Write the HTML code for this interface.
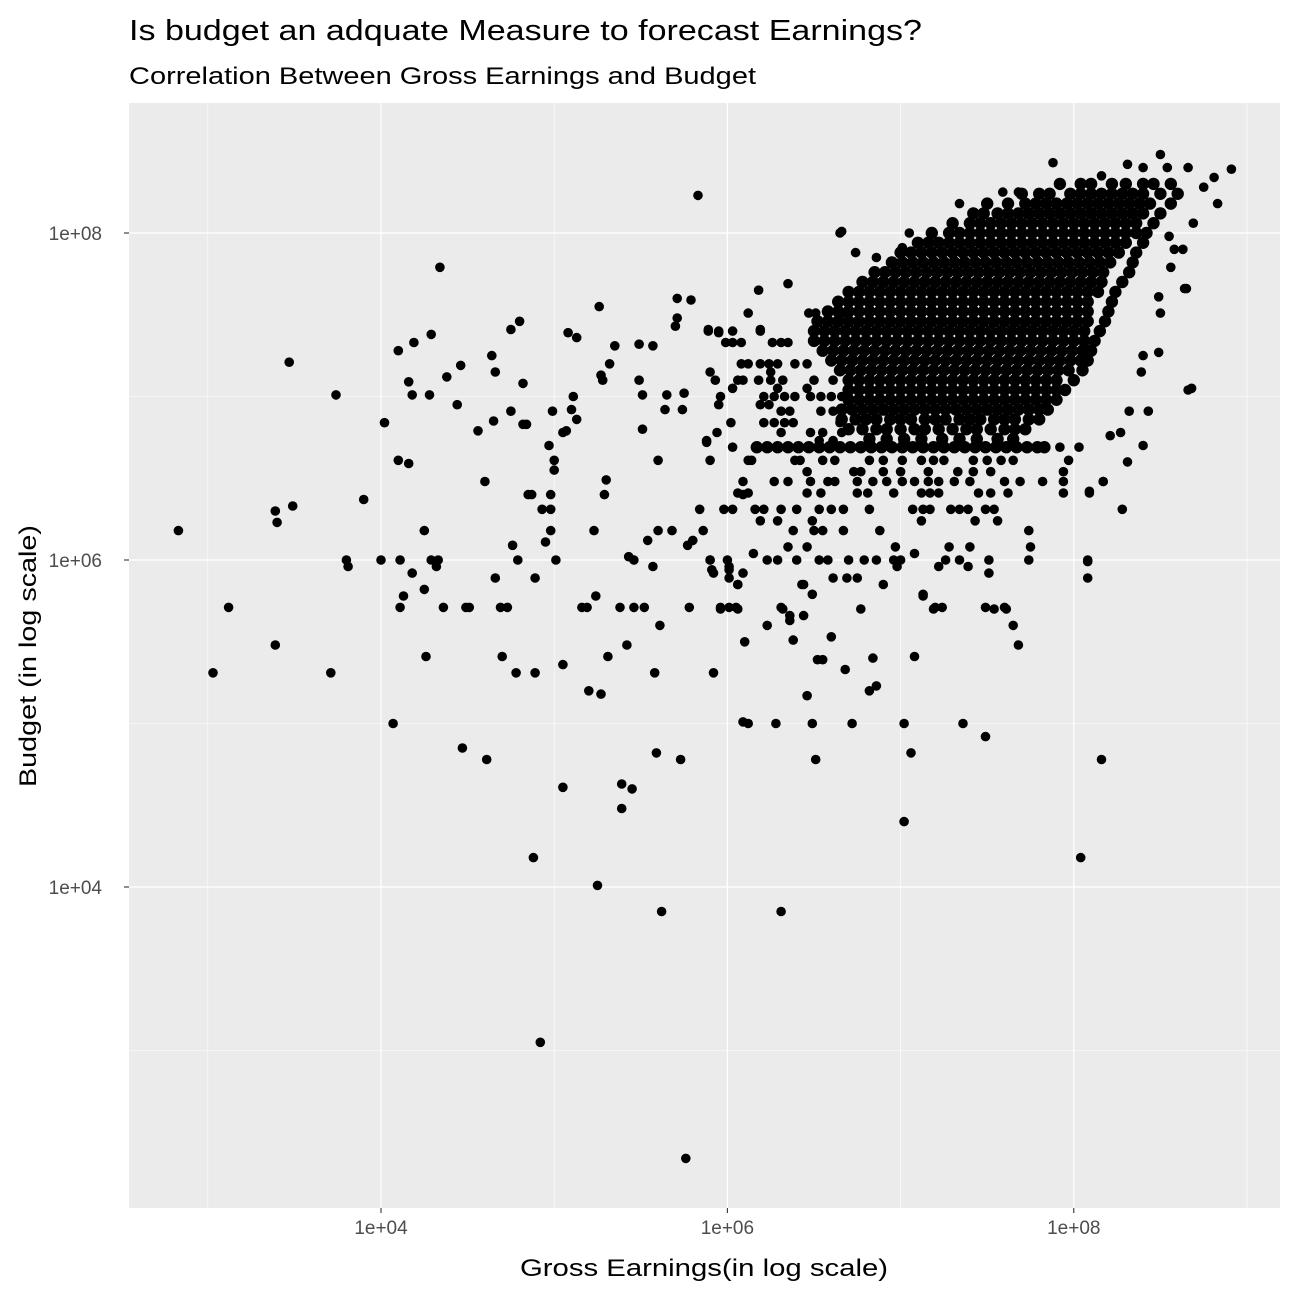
<!DOCTYPE html>
<html><head><meta charset="utf-8"><title>Budget vs Gross Earnings</title>
<style>html,body{margin:0;padding:0;background:#fff}svg{display:block;font-family:"Liberation Sans",Arial,sans-serif}</style>
</head><body>
<svg id="chart" width="1296" height="1296" viewBox="0 0 1296 1296" xmlns="http://www.w3.org/2000/svg">
<rect x="0" y="0" width="1296" height="1296" fill="#fff"/>
<text x="129" y="40" font-size="29" fill="#000" textLength="793" lengthAdjust="spacingAndGlyphs">Is budget an adquate Measure to forecast Earnings?</text>
<text x="129" y="84" font-size="24" fill="#000" textLength="627" lengthAdjust="spacingAndGlyphs">Correlation Between Gross Earnings and Budget</text>
<rect x="129" y="103" width="1151" height="1105" fill="#EBEBEB"/>
<g id="grid"></g>
<g id="points"></g>
<g id="axes"></g>
<text x="704" y="1276" font-size="24" text-anchor="middle" fill="#000" textLength="368" lengthAdjust="spacingAndGlyphs">Gross Earnings(in log scale)</text>
<text x="0" y="0" font-size="24" text-anchor="middle" fill="#000" transform="translate(36,656) rotate(-90)" textLength="262" lengthAdjust="spacingAndGlyphs">Budget (in log scale)</text>
</svg>
<script>
// axis tick data (log10 exponents)
const xMajorTicks = [4, 6, 8];
const xMinorTicks = [3, 5, 7, 9];
const yMajorTicks = [4, 6, 8];
const yMinorTicks = [3, 5, 7];
const xTickLabels = ["1e+04", "1e+06", "1e+08"];
const yTickLabels = ["1e+04", "1e+06", "1e+08"];

// scattered points: [log10 gross, log10 budget]
const scatterPoints = [
[2.83,6.18],[3.12,5.71],[3.03,5.31],[3.39,6.30],[3.40,6.23],[3.49,6.33],[3.47,7.21],[3.39,5.48],[3.71,5.31],[3.74,7.01],
[3.90,6.37],[3.80,6.00],[3.81,5.96],[4.00,6.00],[4.02,6.84],[4.07,5.00],[4.10,6.61],[4.10,7.28],[4.11,6.00],[4.13,5.78],
[4.11,5.71],[4.16,6.59],[4.16,7.09],[4.18,5.92],[4.18,7.01],[4.19,7.33],[4.25,6.18],[4.25,5.82],[4.26,5.41],[4.28,7.01],
[4.29,7.38],[4.29,6.00],[4.32,5.96],[4.33,6.00],[4.34,7.79],[4.36,5.71],[4.38,7.12],[4.44,6.95],[4.46,7.19],[4.47,4.85],
[4.49,5.71],[4.51,5.71],[4.56,6.79],[4.60,6.48],[4.61,4.78],[4.64,7.25],[4.66,7.15],[4.65,6.85],[4.66,5.89],[4.69,5.71],
[4.73,5.71],[4.70,5.41],[4.75,7.41],[4.75,6.91],[4.76,6.09],[4.78,5.31],[4.79,6.00],[4.80,7.46],[4.82,7.08],[4.82,6.83],
[4.84,6.83],[4.85,6.40],[4.87,6.40],[4.89,5.31],[4.88,4.18],[4.89,5.89],[4.92,3.05],[4.93,6.31],[4.95,6.11],[4.97,6.70],
[4.98,6.40],[4.98,6.31],[4.98,6.18],[4.99,6.91],[5.00,6.55],[5.00,6.61],[5.01,6.00],[5.05,5.36],[5.05,4.61],[5.05,6.78],
[5.07,6.79],[5.08,7.39],[5.10,6.92],[5.11,7.00],[5.13,7.36],[5.13,6.86],[5.16,5.71],[5.19,5.71],[5.20,5.20],[5.23,6.18],
[5.24,5.78],[5.25,4.01],[5.26,7.55],[5.27,7.13],[5.27,5.18],[5.28,7.10],[5.29,6.40],[5.30,6.49],[5.31,5.41],[5.32,7.20],
[5.35,7.31],[5.38,5.71],[5.39,4.63],[5.39,4.48],[5.42,5.48],[5.43,6.02],[5.45,4.60],[5.46,6.00],[5.46,5.71],[5.49,7.10],
[5.49,7.32],[5.51,6.80],[5.51,7.01],[5.52,5.71],[5.54,6.12],[5.57,5.96],[5.57,7.31],[5.58,5.31],[5.59,4.82],[5.61,5.60],
[5.62,3.85],[5.60,6.61],[5.60,6.18],[5.64,6.92],[5.65,7.01],[5.68,6.18],[5.70,7.43],[5.71,7.48],[5.71,7.60],[5.73,4.78],
[5.74,6.92],[5.75,7.02],[5.77,6.09],[5.78,5.71],[5.79,7.59],[5.76,2.34],[5.83,8.23],[5.80,6.12],[5.84,6.31],[5.88,6.72],
[5.89,7.41],[5.90,6.00],[5.91,5.94],[5.92,5.31],[5.95,7.39],[5.96,5.71],[6.01,5.71],[6.05,5.71],[6.01,5.94],[6.06,5.85],
[6.09,5.01],[6.10,5.50],[6.09,6.40],[6.12,5.00],[6.14,6.61],[6.18,7.65],[6.19,7.41],[6.21,6.31],[6.23,5.60],[6.28,5.00],
[6.31,3.85],[6.31,5.71],[6.35,7.69],[6.36,5.63],[6.38,5.51],[6.43,5.85],[6.46,5.17],[6.49,5.00],[6.51,4.78],[6.52,5.39],
[6.55,5.39],[6.60,5.53],[6.66,8.01],[6.68,5.33],[6.72,5.00],[6.82,5.20],[6.84,5.40],[6.86,5.23],[7.02,4.40],[7.02,5.00],
[7.06,4.82],[7.08,5.41],[7.13,5.78],[7.20,5.71],[7.24,5.71],[7.36,5.00],[7.49,5.71],[7.49,4.92],[7.60,5.71],[7.65,5.60],
[7.68,5.48],[8.04,4.18],[8.16,4.78],[8.08,5.99],[8.08,5.89],[8.28,6.31],[8.66,7.04],[8.68,7.05],[8.91,8.39],[8.83,8.18],[8.65,7.66],
// mid-density region
[7.92,6.69],[8.03,6.69],
[5.90,6.61],[6.12,6.61],[6.39,6.61],[6.42,6.61],[6.55,6.61],[6.62,6.61],[6.82,6.61],[6.90,6.61],[7.01,6.61],[7.12,6.61],[7.19,6.61],[7.25,6.61],[7.42,6.61],[7.50,6.61],[7.58,6.61],[7.65,6.61],[7.97,6.61],
[6.46,6.54],[6.73,6.54],[6.77,6.54],[6.90,6.54],[7.00,6.54],[7.16,6.54],[7.33,6.54],[7.42,6.54],[7.52,6.54],[7.94,6.54],
[6.09,6.48],[6.27,6.48],[6.35,6.48],[6.48,6.48],[6.58,6.48],[6.62,6.48],[6.75,6.48],[6.84,6.48],[6.92,6.48],[7.01,6.48],[7.08,6.48],[7.16,6.48],[7.22,6.48],[7.31,6.48],[7.40,6.48],[7.60,6.48],[7.69,6.48],[7.82,6.48],[7.94,6.48],[8.17,6.48],
[6.06,6.41],[6.12,6.41],[6.46,6.41],[6.54,6.41],[6.75,6.41],[6.81,6.41],[6.96,6.41],[7.12,6.41],[7.17,6.41],[7.22,6.41],[7.45,6.41],[7.52,6.41],[7.62,6.41],[7.94,6.41],[8.09,6.41],
[5.98,6.31],[6.03,6.31],[6.16,6.31],[6.31,6.31],[6.40,6.31],[6.53,6.31],[6.60,6.31],[6.67,6.31],[6.82,6.31],[7.07,6.31],[7.13,6.31],[7.17,6.31],[7.29,6.31],[7.34,6.31],[7.39,6.31],[7.49,6.31],[7.54,6.31],
[6.19,6.24],[6.29,6.24],[6.49,6.24],[7.12,6.24],[7.43,6.24],[7.56,6.24],
[5.86,6.18],[6.38,6.18],[6.50,6.18],[6.55,6.18],[6.67,6.18],[6.88,6.18],[7.74,6.18],
[6.35,6.08],[6.46,6.08],[6.97,6.08],[7.28,6.08],[7.40,6.08],[7.75,6.08],[6.15,6.04],[7.08,6.04],
[5.90,6.00],[6.00,6.00],[6.23,6.00],[6.29,6.00],[6.40,6.00],[6.53,6.00],[6.58,6.00],[6.70,6.00],[6.79,6.00],[6.86,6.00],[6.96,6.00],[7.00,6.00],[7.26,6.00],[7.34,6.00],[7.51,6.00],[7.74,6.00],[8.08,6.00],
[6.01,5.96],[6.98,5.96],[7.22,5.96],[7.39,5.96],[5.92,5.92],[6.09,5.92],[7.51,5.92],
[6.01,5.89],[6.61,5.89],[6.69,5.89],[6.75,5.89],[6.06,5.85],[6.44,5.85],[6.90,5.85],[6.49,5.79],[7.13,5.79],
[5.96,5.70],[6.06,5.70],[6.32,5.70],[6.77,5.70],[7.19,5.70],[7.54,5.70],[7.61,5.70],[6.36,5.66],[6.44,5.66],
[6.12,7.51],[6.47,7.51],[6.51,7.51],[6.66,7.51],
[5.89,7.40],[5.95,7.40],[6.03,7.40],[6.19,7.40],
[5.99,7.33],[6.03,7.33],[6.08,7.33],[6.26,7.33],[6.31,7.33],[6.35,7.33],
[6.08,7.20],[6.12,7.20],[6.19,7.20],[6.24,7.20],[6.29,7.20],[6.39,7.20],[6.46,7.20],[5.90,7.15],[6.25,7.15],
[5.93,7.10],[6.06,7.10],[6.09,7.10],[6.18,7.10],[6.25,7.10],[6.32,7.10],[6.50,7.10],[6.61,7.10],
[6.03,7.05],[6.29,7.05],[6.46,7.05],
[5.96,7.00],[6.21,7.00],[6.27,7.00],[6.33,7.00],[6.39,7.00],[6.48,7.00],[6.54,7.00],[6.60,7.00],[6.66,7.00],
[5.95,6.95],[6.19,6.95],[6.24,6.95],[6.31,6.91],[6.36,6.91],[6.54,6.91],[6.61,6.91],
[6.02,6.84],[6.21,6.84],[6.27,6.84],[6.33,6.84],[6.38,6.84],[6.65,6.84],
[5.94,6.78],[6.31,6.78],[6.48,6.78],[6.55,6.78],[6.66,6.78],[5.88,6.73],[6.53,6.73],[6.61,6.73],[6.03,6.69],
// blob edges
[8.64,7.66],[8.49,7.27],[8.40,7.25],[8.39,7.15],[8.43,6.91],[8.32,6.91],[8.40,6.70],[8.31,6.60],[8.27,6.78],[8.21,6.76],[8.17,6.48],[8.09,6.42],
[8.50,7.51],[8.49,7.61],[8.56,7.79],[8.58,7.90],[8.63,7.90],[8.55,7.98],[8.69,8.06],[8.75,8.28],[8.81,8.34],[8.66,8.40],[8.50,8.48],
[8.31,8.42],[7.88,8.43],[8.16,8.35],[8.40,8.40],[8.54,8.40],[7.34,8.18],[7.59,8.25],[7.68,8.25],[7.05,8.00],[6.65,8.00],[6.74,7.88],[6.86,7.85],[7.01,7.91]
];

// dense cluster rows: budget level (log10) and gross values (log10) at that level
const blobBudget = [8.30,8.24,8.18,8.12,8.06,8.00,7.94,7.88,7.82,7.76,7.70,7.64,7.58,7.52,7.46,7.40,7.34,7.28,7.22,7.16,7.10,7.04,6.98,6.92,6.86,6.80,6.74,6.69];
const blobGross = [
[7.92,8.04,8.10,8.22,8.30,8.40,8.46,8.56],
[7.70,7.80,7.86,7.98,8.04,8.10,8.16,8.22,8.28,8.34,8.40,8.50,8.60],
[7.50,7.62,7.72,7.78,7.84,7.90,7.96,8.02,8.08,8.14,8.20,8.26,8.32,8.38,8.44,8.56],
[7.42,7.48,7.56,7.62,7.68,7.74,7.80,7.86,7.92,7.98,8.04,8.10,8.16,8.22,8.28,8.34,8.40,8.50],
[7.30,7.40,7.46,7.52,7.58,7.64,7.70,7.76,7.82,7.88,7.94,8.00,8.06,8.12,8.18,8.24,8.30,8.36,8.46],
[7.18,7.28,7.34,7.40,7.46,7.52,7.58,7.64,7.70,7.76,7.82,7.88,7.94,8.00,8.06,8.12,8.18,8.24,8.30,8.36,8.42],
[7.10,7.16,7.22,7.28,7.34,7.40,7.46,7.52,7.58,7.64,7.70,7.76,7.82,7.88,7.94,8.00,8.06,8.12,8.18,8.24,8.30,8.40],
[7.00,7.06,7.12,7.18,7.24,7.30,7.36,7.42,7.48,7.54,7.60,7.66,7.72,7.78,7.84,7.90,7.96,8.02,8.08,8.14,8.20,8.26,8.36],
[6.95,7.01,7.07,7.13,7.19,7.25,7.31,7.37,7.43,7.49,7.55,7.61,7.67,7.73,7.79,7.85,7.91,7.97,8.03,8.09,8.15,8.21,8.34],
[6.85,6.91,6.97,7.03,7.09,7.15,7.21,7.27,7.33,7.39,7.45,7.51,7.57,7.63,7.69,7.75,7.81,7.87,7.93,7.99,8.05,8.11,8.17,8.32],
[6.78,6.84,6.90,6.96,7.02,7.08,7.14,7.20,7.26,7.32,7.38,7.44,7.50,7.56,7.62,7.68,7.74,7.80,7.86,7.92,7.98,8.04,8.10,8.16,8.28],
[6.70,6.76,6.82,6.88,6.94,7.00,7.06,7.12,7.18,7.24,7.30,7.36,7.42,7.48,7.54,7.60,7.66,7.72,7.78,7.84,7.90,7.96,8.02,8.08,8.14,8.24],
[6.64,6.70,6.76,6.82,6.88,6.94,7.00,7.06,7.12,7.18,7.24,7.30,7.36,7.42,7.48,7.54,7.60,7.66,7.72,7.78,7.84,7.90,7.96,8.02,8.08,8.22],
[6.58,6.64,6.70,6.76,6.82,6.88,6.94,7.00,7.06,7.12,7.18,7.24,7.30,7.36,7.42,7.48,7.54,7.60,7.66,7.72,7.78,7.84,7.90,7.96,8.02,8.08,8.20],
[6.52,6.58,6.64,6.70,6.76,6.82,6.88,6.94,7.00,7.06,7.12,7.18,7.24,7.30,7.36,7.42,7.48,7.54,7.60,7.66,7.72,7.78,7.84,7.90,7.96,8.02,8.08,8.18],
[6.50,6.56,6.62,6.68,6.74,6.80,6.86,6.92,6.98,7.04,7.10,7.16,7.22,7.28,7.34,7.40,7.46,7.52,7.58,7.64,7.70,7.76,7.82,7.88,7.94,8.00,8.06,8.15],
[6.50,6.56,6.62,6.68,6.74,6.80,6.86,6.92,6.98,7.04,7.10,7.16,7.22,7.28,7.34,7.40,7.46,7.52,7.58,7.64,7.70,7.76,7.82,7.88,7.94,8.00,8.06,8.12],
[6.55,6.61,6.67,6.73,6.79,6.85,6.91,6.97,7.03,7.09,7.15,7.21,7.27,7.33,7.39,7.45,7.51,7.57,7.63,7.69,7.75,7.81,7.87,7.93,7.99,8.05,8.10],
[6.60,6.66,6.72,6.78,6.84,6.90,6.96,7.02,7.08,7.14,7.20,7.26,7.32,7.38,7.44,7.50,7.56,7.62,7.68,7.74,7.80,7.86,7.92,7.98,8.04,8.08],
[6.65,6.71,6.77,6.83,6.89,6.95,7.01,7.07,7.13,7.19,7.25,7.31,7.37,7.43,7.49,7.55,7.61,7.67,7.73,7.79,7.85,7.91,7.97,8.05],
[6.70,6.76,6.82,6.88,6.94,7.00,7.06,7.12,7.18,7.24,7.30,7.36,7.42,7.48,7.54,7.60,7.66,7.72,7.78,7.84,7.90,8.00],
[6.70,6.76,6.82,6.88,6.94,7.00,7.06,7.12,7.18,7.24,7.30,7.36,7.42,7.48,7.54,7.60,7.66,7.72,7.78,7.84,7.90,7.95],
[6.70,6.76,6.82,6.88,6.94,7.00,7.06,7.12,7.18,7.24,7.30,7.36,7.42,7.48,7.54,7.60,7.66,7.72,7.78,7.84,7.90],
[6.66,6.72,6.78,6.84,6.90,6.96,7.02,7.08,7.14,7.20,7.26,7.32,7.38,7.44,7.50,7.56,7.62,7.68,7.74,7.80,7.85],
[6.66,6.74,6.80,6.86,6.94,7.00,7.06,7.14,7.20,7.26,7.34,7.40,7.46,7.54,7.60,7.66,7.74,7.80],
[6.70,6.78,6.86,6.92,7.00,7.08,7.14,7.22,7.30,7.38,7.44,7.52,7.60,7.66,7.72],
[6.82,6.92,7.02,7.12,7.24,7.34,7.44,7.56,7.65],
[6.17,6.23,6.29,6.35,6.41,6.47,6.53,6.59,6.65,6.71,6.77,6.83,6.89,6.95,7.01,7.07,7.13,7.19,7.25,7.31,7.37,7.43,7.49,7.55,7.61,7.67,7.73,7.79,7.83]
];

const NS = "http://www.w3.org/2000/svg";
const PL = 129, PR = 1280, PT = 103, PB = 1208;
function xScale(lx) { return 381 + (lx - 4) * 173.2; }
function yScale(ly) { return 233 - (ly - 8) * 163.5; }

const grid = document.getElementById('grid');
const axes = document.getElementById('axes');
const pts = document.getElementById('points');

function line(parent, x1, y1, x2, y2, stroke, w, name) {
  const l = document.createElementNS(NS, 'line');
  l.setAttribute('x1', x1); l.setAttribute('y1', y1);
  l.setAttribute('x2', x2); l.setAttribute('y2', y2);
  l.setAttribute('stroke', stroke); l.setAttribute('stroke-width', w);
  
  
  parent.appendChild(l);
  return l;
}

xMinorTicks.forEach(t => { const x = xScale(t); if (x > PL && x < PR) line(grid, x, PT, x, PB, '#fff', 0.6, 'x-minor-gridline'); });
yMinorTicks.forEach(t => { const y = yScale(t); if (y > PT && y < PB) line(grid, PL, y, PR, y, '#fff', 0.6, 'y-minor-gridline'); });
xMajorTicks.forEach(t => { const x = xScale(t); line(grid, x, PT, x, PB, '#fff', 1.2, 'x-major-gridline'); });
yMajorTicks.forEach(t => { const y = yScale(t); line(grid, PL, y, PR, y, '#fff', 1.2, 'y-major-gridline'); });

xMajorTicks.forEach((t, i) => {
  const x = xScale(t);
  line(axes, x, PB, x, PB + 5, '#333', 1.1, 'x-tick-mark');
  const tx = document.createElementNS(NS, 'text');
  tx.setAttribute('x', x); tx.setAttribute('y', PB + 26);
  tx.setAttribute('text-anchor', 'middle'); tx.setAttribute('font-size', '19'); tx.setAttribute('fill', '#4D4D4D');
  
  
  tx.textContent = xTickLabels[i];
  axes.appendChild(tx);
});
yMajorTicks.forEach((t, i) => {
  const y = yScale(t);
  line(axes, PL - 5, y, PL, y, '#333', 1.1, 'y-tick-mark');
  const tx = document.createElementNS(NS, 'text');
  tx.setAttribute('x', PL - 27); tx.setAttribute('y', y + 7);
  tx.setAttribute('text-anchor', 'end'); tx.setAttribute('font-size', '19'); tx.setAttribute('fill', '#4D4D4D');
  
  
  tx.textContent = yTickLabels[i];
  axes.appendChild(tx);
});

function dot(lx, ly, r) {
  const c = document.createElementNS(NS, 'circle');
  c.setAttribute('cx', xScale(lx).toFixed(1));
  c.setAttribute('cy', yScale(ly).toFixed(1));
  c.setAttribute('r', r);
  c.setAttribute('fill', '#000');
  
  
  pts.appendChild(c);
}
scatterPoints.forEach(p => dot(p[0], p[1], 4.8));
blobBudget.forEach((b, i) => { (blobGross[i] || []).forEach(g => dot(g, b, 6.2)); });
</script>
</body></html>
